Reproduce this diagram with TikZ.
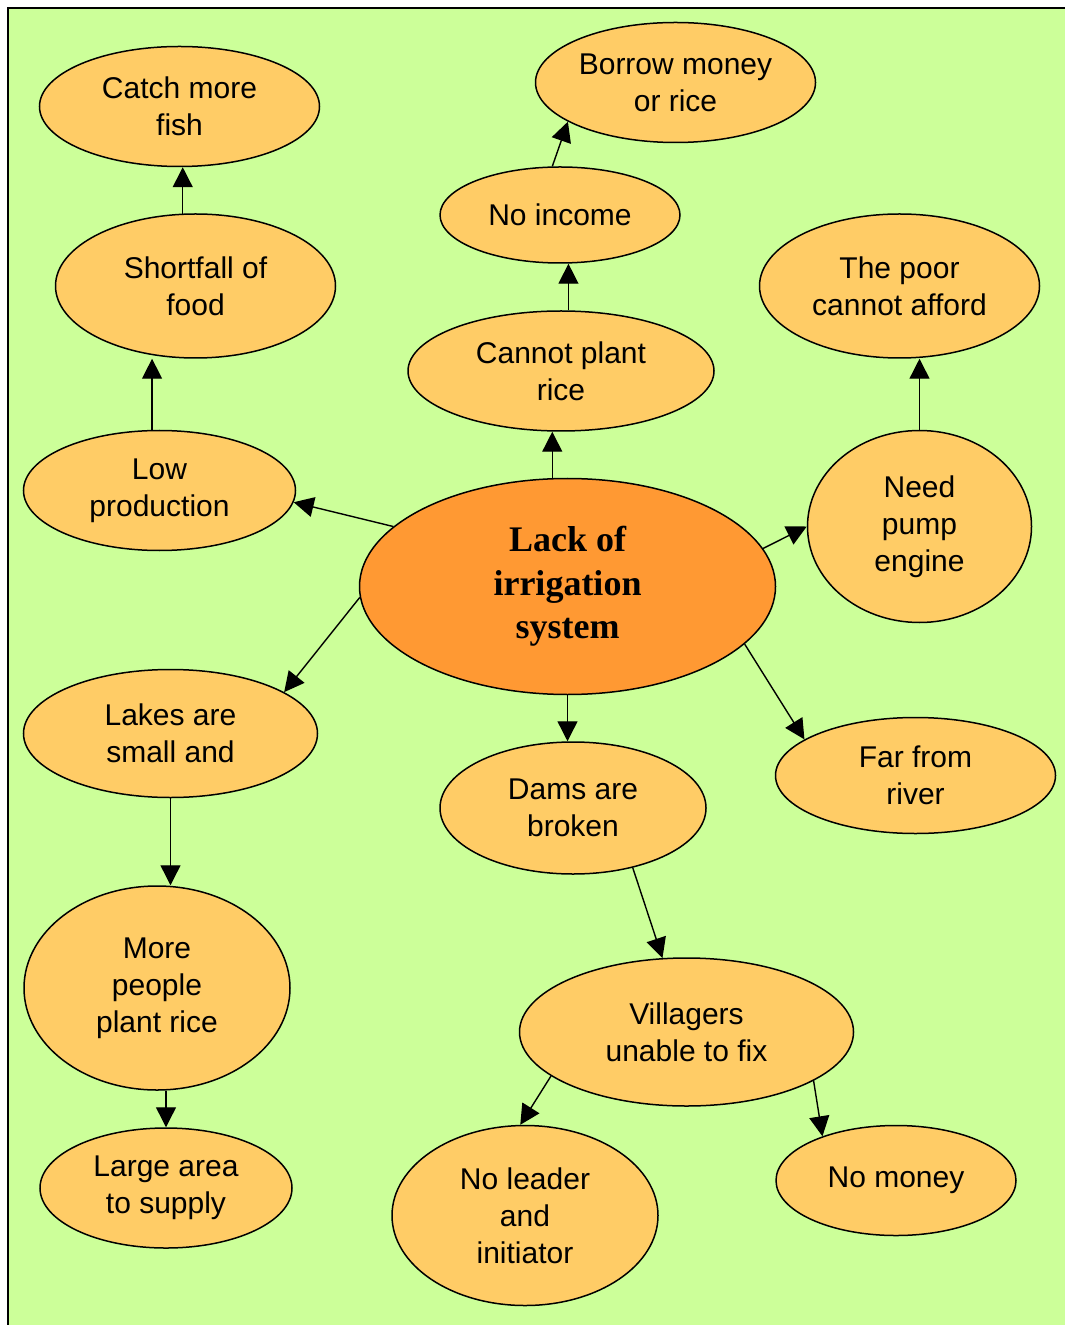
\documentclass[tikz,border=0pt]{standalone}
\usepackage{fontspec}
\setmainfont{Liberation Sans}
\newfontfamily\corefont{Liberation Serif}
\usetikzlibrary{shapes.geometric, arrows.meta}
\definecolor{bggreen}{HTML}{CCFF99}
\definecolor{bubble}{HTML}{FFCC66}
\definecolor{core}{HTML}{FF9933}

\begin{document}
\begin{tikzpicture}[x=0.5pt, y=-0.5pt,
    bub/.style={ellipse, draw, line width=0.75pt, fill=bubble, inner sep=0pt,
        align=center, font=\fontsize{15}{18.5}\selectfont},
    sz/.style 2 args={minimum width=#1pt, minimum height=#2pt},
    arr/.style={-{Triangle[length=10pt,width=10pt]}, line width=0.7pt}]
    \useasboundingbox (0,0) rectangle (1064,1325);
    \fill[white] (0,0) rectangle (1064,1325);
    \fill[bggreen] (8,8) rectangle (1080,1340);
    \draw[line width=1.2pt] (8,1340) -- (8,8) -- (1080,8);

    \node[bub, sz={140}{60}] (catch) at (179.5,106.5) {Catch more\\fish};
    \node[bub, sz={140}{60}] (borrow) at (675.5,82.5) {Borrow money\\or rice};
    \node[bub, sz={120}{48}] (income) at (560,215) {No income};
    \node[bub, sz={140}{72}] (shortfall) at (195.5,286) {Shortfall of\\food};
    \node[bub, sz={140}{72}] (poor) at (899.5,286) {The poor\\cannot afford};
    \node[bub, sz={153}{60}] (plant) at (561,371) {Cannot plant\\rice};
    \node[bub, sz={136}{60}] (low) at (159.5,490.5) {Low\\production};
    \node[bub, sz={208}{108}, fill=core, font=\corefont\bfseries\fontsize{18}{21.75}\selectfont]
        (lack) at (567.5,586.5) {Lack of\\irrigation\\system};
    \node[bub, sz={112}{96}] (pump) at (919.5,526.5) {Need\\pump\\engine};
    \node[bub, sz={147}{64}] (lakes) at (170.5,733.5) {Lakes are\\small and};
    \node[bub, sz={133}{66}] (dams) at (573,808) {Dams are\\broken};
    \node[bub, sz={140}{58}] (river) at (915.5,775.5) {Far from\\river};
    \node[bub, sz={133}{102}] (people) at (157,988) {More\\people\\plant rice};
    \node[bub, sz={167}{74}] (fix) at (686.5,1032) {Villagers\\unable to fix};
    \node[bub, sz={126}{60}] (area) at (166,1188) {Large area\\to supply};
    \node[bub, sz={133}{90}] (leader) at (525,1215.5) {No leader\\and\\initiator};
    \node[bub, sz={120}{55}] (money) at (896,1180.5) {No money};

    \draw[arr] (shortfall.100) -- (shortfall.100 |- catch.south);
    \draw[arr] (income.99) -- (borrow.200);
    \draw[arr] (plant.83) -- (plant.83 |- income.south);
    \draw[arr] (low.97) -- (low.97 |- shortfall.south);
    \draw[arr] (lack.98) -- (lack.98 |- plant.south);
    \draw[arr] (lack.161) -- (low.355);
    \draw[arr] (lack.11) -- (pump.west);
    \draw[arr] (pump.north) -- (pump.north |- poor.south);
    \draw[arr] (lack.183) -- (lakes.20);
    \draw[arr] (lack.south) -- (lack.south |- dams.north);
    \draw[arr] (lack.342) -- (river.162);
    \draw[arr] (lakes.south) -- (lakes.south |- people.north);
    \draw[arr] (dams.315) -- (fix.108);
    \draw[arr] (area.north |- people.south) -- (area.north);
    \draw[arr] (fix.198) -- (leader.93);
    \draw[arr] (fix.339) -- (money.149);
\end{tikzpicture}
\end{document}
